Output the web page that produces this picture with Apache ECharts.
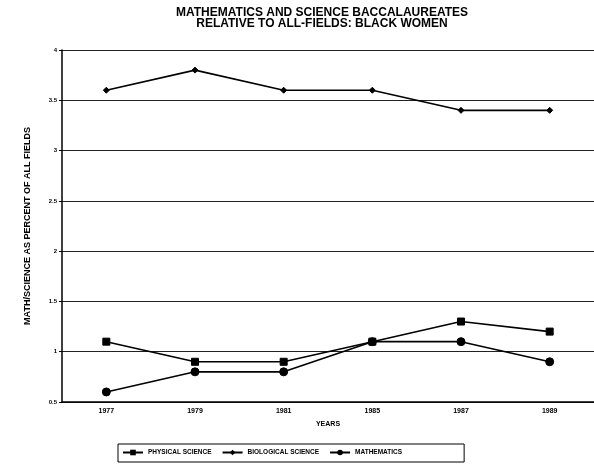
<!DOCTYPE html>
<html>
<head>
<meta charset="utf-8">
<script src="https://cdn.jsdelivr.net/npm/echarts@6/dist/echarts.min.js"></script>
<style>
html,body{margin:0;padding:0;background:#fff;}
#c{width:594px;height:464px;}
</style>
</head>
<body>
<div id="c"></div>
<script>
var years = ['1977', '1979', '1981', '1985', '1987', '1989'];
var physicalScience = [1.1, 0.9, 0.9, 1.1, 1.3, 1.2];
var biologicalScience = [3.6, 3.8, 3.6, 3.6, 3.4, 3.4];
var mathematics = [0.6, 0.8, 0.8, 1.1, 1.1, 0.9];
var yTicks = [0.5, 1, 1.5, 2, 2.5, 3, 3.5, 4];

var FONT = '"Liberation Sans", Arial, sans-serif';
var chart = echarts.init(document.getElementById('c'), null, {renderer: 'canvas'});
function mk(name, data, symbol, size) {
  return {
    name: name, type: 'line', data: data,
    symbol: symbol, symbolSize: size,
    lineStyle: {color: '#000', width: 1.6},
    itemStyle: {color: '#000', borderColor: '#000'},
    animation: false
  };
}
chart.setOption({
  animation: false,
  backgroundColor: '#fff',
  title: {
    text: 'MATHEMATICS AND SCIENCE BACCALAUREATES\nRELATIVE TO ALL-FIELDS: BLACK WOMEN',
    left: 317, top: 2, textAlign: 'center',
    textStyle: {fontFamily: FONT, fontSize: 12, fontWeight: 'bold', color: '#000', lineHeight: 11}
  },
  grid: {left: 62, right: 0, top: 50, bottom: 62},
  legend: {
    bottom: 2, left: 118,
    orient: 'horizontal',
    itemGap: 10,
    itemWidth: 20, itemHeight: 7,
    padding: [5, 62, 6, 4],
    borderColor: '#000', borderWidth: 1,
    textStyle: {fontFamily: FONT, fontSize: 6.5, fontWeight: 'bold', color: '#000'},
    data: ['PHYSICAL SCIENCE', 'BIOLOGICAL SCIENCE', 'MATHEMATICS']
  },
  xAxis: {
    type: 'category', data: years, boundaryGap: true,
    name: 'YEARS', nameLocation: 'middle', nameGap: 19,
    nameTextStyle: {fontFamily: FONT, fontSize: 7, fontWeight: 'bold', color: '#000'},
    axisLine: {lineStyle: {color: '#000', width: 1.5}},
    axisTick: {alignWithLabel: true, length: 4, lineStyle: {color: '#000'}},
    axisLabel: {fontFamily: FONT, fontSize: 7, fontWeight: 'bold', color: '#000', margin: 6},
    splitLine: {show: false}
  },
  yAxis: {
    type: 'value', min: yTicks[0], max: yTicks[yTicks.length - 1], interval: 0.5,
    name: 'MATH/SCIENCE AS PERCENT OF ALL FIELDS', nameLocation: 'middle', nameGap: 30,
    nameTextStyle: {fontFamily: FONT, fontSize: 9, fontWeight: 'bold', color: '#000'},
    axisLine: {show: true, lineStyle: {color: '#000', width: 1.5}},
    axisTick: {show: true, length: 3, lineStyle: {color: '#000'}},
    axisLabel: {fontFamily: FONT, fontSize: 6, fontWeight: 'bold', color: '#000', margin: 5,
      formatter: function (v) { return yTicks.indexOf(v) >= 0 ? String(v) : ''; }},
    splitLine: {show: true, lineStyle: {color: '#222', width: 1}}
  },
  series: [
    mk('PHYSICAL SCIENCE', physicalScience, 'rect', 7),
    mk('BIOLOGICAL SCIENCE', biologicalScience, 'diamond', 6),
    mk('MATHEMATICS', mathematics, 'circle', 8)
  ]
});
</script>
</body>
</html>
